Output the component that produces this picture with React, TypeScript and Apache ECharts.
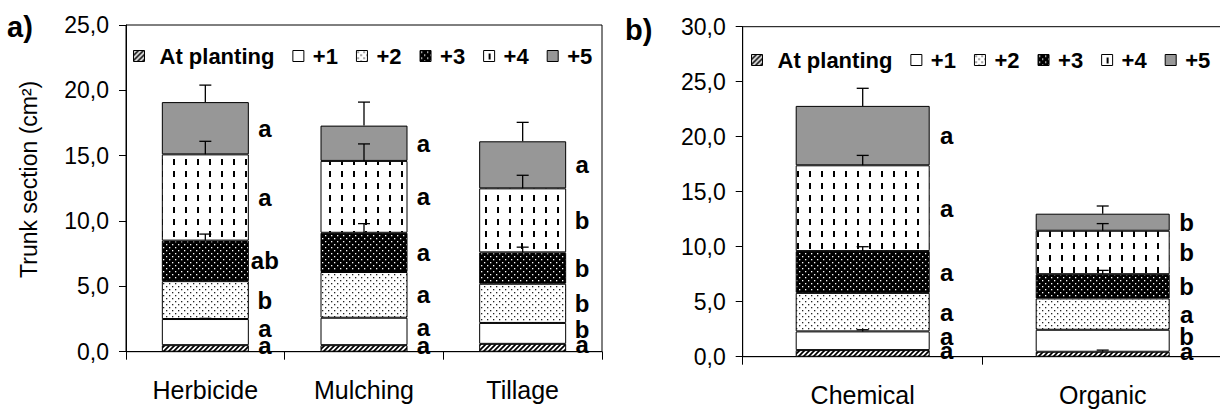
import React, { useEffect, useRef } from 'react';
import * as echarts from 'echarts';

const categoriesA = ['Herbicide', 'Mulching', 'Tillage'];
const categoriesB = ['Chemical', 'Organic'];
const years = ['At planting', '+1', '+2', '+3', '+4', '+5'];

// cumulative trunk section (cm²) at the top of each yearly segment
const topsHerbicide = [0.5, 2.5, 5.4, 8.5, 15.1, 19.1];
const topsMulching = [0.5, 2.6, 6.1, 9.1, 14.6, 17.3];
const topsTillage = [0.6, 2.2, 5.2, 7.6, 12.5, 16.1];
const topsChemical = [0.6, 2.3, 5.8, 9.6, 17.4, 22.8];
const topsOrganic = [0.45, 2.45, 5.3, 7.5, 11.45, 13.0];

// upper end of error bars (null = none visible)
const errHerbicide = [null, 2.55, null, 9.0, 16.1, 20.4];
const errMulching = [null, null, null, 9.8, 15.9, 19.1];
const errTillage = [null, null, null, 8.0, 13.5, 17.55];
const errChemical = [null, 2.45, null, 10.0, 18.3, 24.4];
const errOrganic = [0.6, null, null, 7.85, 12.1, 13.7];

// significance letters
const lettersHerbicide = ['a', 'a', 'b', 'ab', 'a', 'a'];
const lettersMulching = ['a', 'a', 'a', 'a', 'a', 'a'];
const lettersTillage = ['a', 'b', 'b', 'b', 'b', 'a'];
const lettersChemical = ['a', 'a', 'a', 'a', 'a', 'a'];
const lettersOrganic = ['a', 'b', 'a', 'b', 'b', 'b'];

const yMaxA = 25;
const yMaxB = 30;
const yStep = 5;

const ARIAL = 'Liberation Sans, Arial, sans-serif';

function makeCanvas(w: number, h: number, draw: (ctx: CanvasRenderingContext2D) => void) {
  const c = document.createElement('canvas');
  c.width = w;
  c.height = h;
  const ctx = c.getContext('2d')!;
  draw(ctx);
  return c;
}

function makeFills() {
  const hatch = makeCanvas(5, 5, (ctx) => {
    ctx.fillStyle = '#fff';
    ctx.fillRect(0, 0, 5, 5);
    ctx.strokeStyle = '#000';
    ctx.lineWidth = 1.7;
    ctx.beginPath();
    ctx.moveTo(-1, 6); ctx.lineTo(6, -1);
    ctx.moveTo(-1, 1); ctx.lineTo(1, -1);
    ctx.moveTo(4, 6); ctx.lineTo(6, 4);
    ctx.stroke();
  });
  const dotsLight = makeCanvas(6, 6, (ctx) => {
    ctx.fillStyle = '#fff';
    ctx.fillRect(0, 0, 6, 6);
    ctx.fillStyle = '#222';
    ctx.fillRect(1, 1, 1.3, 1.3);
    ctx.fillRect(4, 4, 1.3, 1.3);
  });
  const dotsDark = makeCanvas(6, 6, (ctx) => {
    ctx.fillStyle = '#000';
    ctx.fillRect(0, 0, 6, 6);
    ctx.fillStyle = '#fff';
    ctx.fillRect(1, 1, 1.3, 1.3);
    ctx.fillRect(4, 4, 1.3, 1.3);
  });
  const dashes = makeCanvas(12, 12, (ctx) => {
    ctx.fillStyle = '#fff';
    ctx.fillRect(0, 0, 12, 12);
    ctx.fillStyle = '#000';
    ctx.fillRect(5, 3, 2, 6);
  });
  return [
    { image: hatch, repeat: 'repeat' },
    '#ffffff',
    { image: dotsLight, repeat: 'repeat' },
    { image: dotsDark, repeat: 'repeat' },
    { image: dashes, repeat: 'repeat' },
    '#979797',
  ];
}

function panelSeries(
  idx: number,
  tops: number[][],
  errs: (number | null)[][],
  letters: string[][],
  fills: any[],
  barWidth: number,
  labelDist: number
) {
  const bars = years.map((yr, y) => ({
    type: 'bar',
    name: yr,
    xAxisIndex: idx,
    yAxisIndex: idx,
    stack: 'p' + idx,
    barWidth,
    data: tops.map((t) => +(t[y] - (y ? t[y - 1] : 0)).toFixed(3)),
    itemStyle: { color: fills[y], borderColor: '#000', borderWidth: 1 },
    label: {
      show: true,
      position: 'right',
      distance: labelDist,
      align: 'center',
      offset: y === 0 ? [0, -3] : y === 1 ? [0, -4] : [0, 0],
      formatter: (p: any) => letters[p.dataIndex][y],
      fontFamily: ARIAL,
      fontWeight: 'bold',
      fontSize: 24,
      color: '#000',
    },
    emphasis: { disabled: true },
    silent: true,
  }));
  const errData: number[][] = [];
  tops.forEach((t, i) => {
    t.forEach((v, y) => {
      const e = errs[i][y];
      if (e !== null) errData.push([i, v, e]);
    });
  });
  const errSeries = {
    type: 'custom',
    xAxisIndex: idx,
    yAxisIndex: idx,
    z: 10,
    silent: true,
    data: errData,
    renderItem: (params: any, api: any) => {
      const p0 = api.coord([api.value(0), api.value(1)]);
      const p1 = api.coord([api.value(0), api.value(2)]);
      const st = { stroke: '#000', lineWidth: 1.3 };
      return {
        type: 'group',
        children: [
          { type: 'line', shape: { x1: p0[0], y1: p0[1], x2: p1[0], y2: p1[1] }, style: st },
          { type: 'line', shape: { x1: p1[0] - 6, y1: p1[1], x2: p1[0] + 6, y2: p1[1] }, style: st },
        ],
      };
    },
  };
  return [...bars, errSeries];
}

function legendFor(left: number, top: number) {
  const base = { fontFamily: ARIAL, fontWeight: 'bold', fontSize: 22, color: '#000' };
  return {
    left,
    top,
    orient: 'horizontal',
    padding: 0,
    itemWidth: 11,
    itemHeight: 11,
    itemGap: 18,
    selectedMode: false,
    icon: 'rect',
    data: years,
    itemStyle: { borderColor: '#000', borderWidth: 1 },
    formatter: (name: string) => (name === 'At planting' ? `{w|${name}}` : `{n|${name}}`),
    textStyle: {
      ...base,
      rich: {
        w: { ...base, padding: [0, 0, 0, 10] },
        n: { ...base, padding: [0, 0, 0, 4] },
      },
    },
  };
}

const fmt = (v: number) => v.toFixed(1).replace('.', ',');

function yAxisFor(idx: number, max: number, withName: boolean) {
  return {
    type: 'value',
    gridIndex: idx,
    min: 0,
    max,
    interval: yStep,
    splitLine: { show: false },
    axisLine: { show: true, lineStyle: { color: '#000', width: 1 } },
    axisTick: { show: true, length: 7, lineStyle: { color: '#000' } },
    axisLabel: { formatter: fmt, margin: 17, fontFamily: ARIAL, fontSize: 23, color: '#000' },
    ...(withName
      ? {
          name: 'Trunk section (cm²)',
          nameLocation: 'middle',
          nameGap: 86,
          nameTextStyle: { fontFamily: ARIAL, fontSize: 23, color: '#000', padding: [0, 0, 0, 18] },
        }
      : {}),
  };
}

function xAxisFor(idx: number, data: string[]) {
  return {
    type: 'category',
    gridIndex: idx,
    data,
    axisLine: { show: true, lineStyle: { color: '#000', width: 1 } },
    axisTick: { show: true, length: 8, lineStyle: { color: '#000' } },
    axisLabel: { margin: 26, fontFamily: ARIAL, fontSize: 25, color: '#000' },
    splitLine: { show: false },
  };
}

function buildOption() {
  const fills = makeFills();
  return {
    animation: false,
    backgroundColor: '#ffffff',
    grid: [
      { left: 126, top: 25, width: 476, height: 326.7, show: true, borderColor: '#000', borderWidth: 1, backgroundColor: 'transparent', outerBoundsMode: 'none' },
      { left: 742.7, top: 26.7, width: 480, height: 330, show: true, borderColor: '#000', borderWidth: 1, backgroundColor: 'transparent', outerBoundsMode: 'none' },
    ],
    xAxis: [xAxisFor(0, categoriesA), xAxisFor(1, categoriesB)],
    yAxis: [yAxisFor(0, yMaxA, true), yAxisFor(1, yMaxB, false)],
    legend: [legendFor(133, 45), legendFor(751, 49)],
    graphic: [
      { type: 'text', left: 7, top: 12, style: { text: 'a)', fontFamily: ARIAL, fontWeight: 'bold', fontSize: 29, fill: '#000' } },
      { type: 'text', left: 625, top: 15, style: { text: 'b)', fontFamily: ARIAL, fontWeight: 'bold', fontSize: 29, fill: '#000' } },
    ],
    series: [
      ...panelSeries(
        0,
        [topsHerbicide, topsMulching, topsTillage],
        [errHerbicide, errMulching, errTillage],
        [lettersHerbicide, lettersMulching, lettersTillage],
        fills,
        87,
        16
      ),
      ...panelSeries(
        1,
        [topsChemical, topsOrganic],
        [errChemical, errOrganic],
        [lettersChemical, lettersOrganic],
        fills,
        134,
        17
      ),
    ],
  };
}

export default function App() {
  const ref = useRef<HTMLDivElement>(null);
  useEffect(() => {
    const chart = echarts.init(ref.current!, null, { renderer: 'svg' });
    chart.setOption(buildOption() as any);
    return () => chart.dispose();
  }, []);
  return (
    <div
      ref={ref}
      style={{ position: 'absolute', left: 0, top: 0, width: 1220, height: 409, background: '#fff' }}
    />
  );
}
